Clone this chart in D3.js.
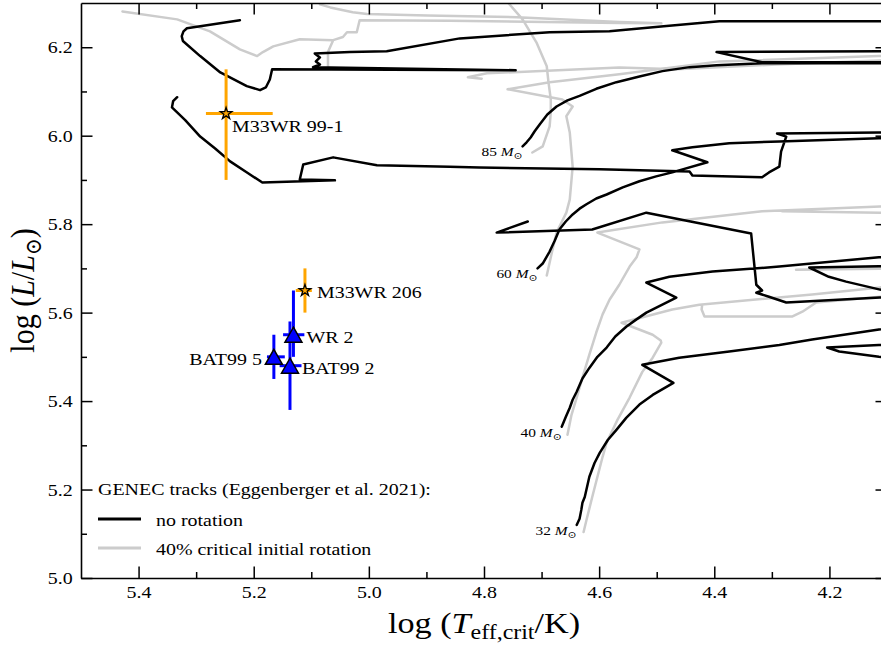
<!DOCTYPE html>
<html>
<head>
<meta charset="utf-8">
<script src="https://cdn.jsdelivr.net/npm/d3@7"></script>
<style>
  body { margin: 0; background: #fff; }
  svg { display: block; }
</style>
</head>
<body>
<svg id="chart" width="881" height="648"></svg>
<script>
// ---------------------------------------------------------------
// GENEC evolutionary tracks, [log Teff, log L] (points beyond the
// axis limits only connect track segments that leave the frame)
// ---------------------------------------------------------------
const masses = [32, 40, 60, 85];

const noRot32 = [
  [4.639,5.120],[4.634,5.134],[4.631,5.154],[4.629,5.170],[4.625,5.183],[4.617,5.229],
  [4.608,5.260],[4.599,5.283],[4.585,5.312],[4.570,5.335],[4.553,5.362],[4.530,5.392],
  [4.507,5.414],[4.471,5.441],[4.525,5.482],[4.461,5.498],[4.374,5.512],[4.287,5.527],
  [4.230,5.539],[4.114,5.562],[4.05,5.570],[4.05,5.528],[4.114,5.527],[4.204,5.521],
  [4.183,5.512],[4.114,5.500],[4.05,5.495]
];
const noRot40 = [
  [4.665,5.342],[4.658,5.364],[4.651,5.385],[4.646,5.403],[4.639,5.421],[4.629,5.451],
  [4.617,5.475],[4.603,5.500],[4.587,5.521],[4.572,5.546],[4.553,5.568],[4.537,5.583],
  [4.518,5.600],[4.466,5.634],[4.518,5.668],[4.478,5.681],[4.403,5.693],[4.287,5.704],
  [4.114,5.725],[4.05,5.727],[4.05,5.705],[4.114,5.705],[4.235,5.702],[4.201,5.681],
  [4.171,5.670],[4.112,5.652],[4.05,5.645],[4.05,5.634],[4.112,5.634],[4.275,5.623],
  [4.305,5.636],[4.327,5.645],[4.317,5.650],[4.327,5.663],[4.336,5.779],[4.518,5.826],
  [4.612,5.788],[4.778,5.781],[4.724,5.806]
];
const noRot60 = [
  [4.707,5.700],[4.698,5.711],[4.686,5.738],[4.677,5.763],[4.669,5.788],[4.658,5.806],
  [4.646,5.822],[4.634,5.835],[4.622,5.845],[4.605,5.858],[4.587,5.867],[4.559,5.883],
  [4.530,5.897],[4.501,5.908],[4.473,5.917],[4.412,5.940],[4.473,5.967],[4.438,5.974],
  [4.374,5.983],[4.287,5.987],[4.114,5.994],[4.05,5.996],[4.05,6.007],[4.114,6.007],
  [4.291,6.005],[4.275,5.998],[4.284,5.964],[4.287,5.930],[4.305,5.917],[4.317,5.906],
  [4.438,5.910],[4.443,5.919],[4.599,5.924],[4.808,5.928],[4.860,5.930],[4.986,5.933],
  [5.062,5.951],[5.114,5.935],[5.120,5.901],[5.059,5.899],[5.185,5.894],[5.213,5.918],
  [5.241,5.942],[5.267,5.971],[5.293,5.998],[5.319,6.035],[5.342,6.064],[5.340,6.078],
  [5.333,6.087]
];
const noRot85 = [
  [4.733,5.976],[4.726,5.985],[4.719,5.996],[4.712,6.010],[4.703,6.026],[4.690,6.048],
  [4.674,6.066],[4.655,6.080],[4.634,6.090],[4.605,6.106],[4.570,6.121],[4.530,6.134],
  [4.490,6.146],[4.443,6.155],[4.396,6.159],[4.317,6.164],[4.112,6.164],[4.05,6.165],
  [4.112,6.166],[4.317,6.166],[4.396,6.189],[4.112,6.191],[4.05,6.192],[4.05,6.259],
  [4.112,6.259],[4.391,6.259],[4.483,6.248],[4.582,6.236],[4.686,6.234],[4.842,6.220],
  [4.969,6.191],[5.033,6.189],[5.094,6.186],[5.085,6.177],[5.092,6.168],[5.085,6.161],
  [5.097,6.155],[4.745,6.148],[5.168,6.150],[5.172,6.127],[5.179,6.109],[5.189,6.103],
  [5.212,6.112],[5.258,6.143],[5.293,6.180],[5.323,6.214],[5.325,6.225],[5.322,6.236],
  [5.316,6.243],[5.224,6.261]
];

const rot32 = [
  [4.627,5.104],[4.622,5.131],[4.612,5.183],[4.594,5.274],[4.587,5.306],[4.568,5.358],
  [4.547,5.408],[4.525,5.466],[4.507,5.498],[4.492,5.532],[4.493,5.537],[4.507,5.550],
  [4.561,5.577],[4.473,5.607],[4.426,5.618],[4.230,5.641],[4.112,5.657],[4.05,5.660],
  [4.05,5.700],[4.112,5.701],[4.258,5.697],[4.112,5.699],[4.05,5.698],[4.05,5.636],
  [4.112,5.636],[4.223,5.623],[4.247,5.602],[4.265,5.591],[4.417,5.591],[4.422,5.607],
  [4.421,5.618]
];
const rot40 = [
  [4.655,5.324],[4.648,5.369],[4.639,5.408],[4.629,5.453],[4.617,5.505],[4.605,5.555],
  [4.594,5.596],[4.582,5.629],[4.565,5.663],[4.547,5.704],[4.535,5.725],[4.530,5.743],
  [4.603,5.781],[4.490,5.804],[4.317,5.829],[4.112,5.840],[4.05,5.841],[4.05,5.826],
  [4.112,5.826],[4.282,5.829]
];
const rot60 = [
  [4.691,5.684],[4.683,5.731],[4.674,5.781],[4.657,5.826],[4.651,5.856],[4.646,5.930],
  [4.651,6.007],[4.657,6.044],[4.646,6.066],[4.664,6.082],[4.759,6.105],[4.686,6.121],
  [4.565,6.139],[4.391,6.168],[4.114,6.180],[4.05,6.181],[4.05,6.170],[4.112,6.170],
  [4.292,6.161],[4.466,6.150],[4.565,6.154],[4.795,6.141],[4.828,6.132],[4.804,6.129]
];
const rot85 = [
  [4.716,5.962],[4.698,5.976],[4.686,6.021],[4.684,6.053],[4.684,6.082],[4.688,6.121],
  [4.691,6.157],[4.709,6.211],[4.733,6.263],[4.759,6.302],[4.775,6.340],[5.090,6.340],
  [5.085,6.297],[5.067,6.290],[5.028,6.279],[5.003,6.275],[4.899,6.272],[4.743,6.268],
  [4.565,6.257],[4.492,6.254],[4.565,6.255],[4.860,6.260],[5.016,6.261],[5.021,6.234],
  [5.038,6.234],[5.045,6.223],[5.062,6.216],[5.071,6.189],[5.071,6.155],[5.071,6.189],
  [5.062,6.216],[5.120,6.218],[5.166,6.202],[5.184,6.189],[5.194,6.180],[5.224,6.195],
  [5.276,6.236],[5.333,6.263],[5.428,6.281]
];

// ---------------------------------------------------------------
// Wolf-Rayet stars
// ---------------------------------------------------------------
const starNames  = ["M33WR 99-1", "M33WR 206", "WR 2", "BAT99 2", "BAT99 5"];
const starGroup  = ["M33", "M33", "Galactic", "LMC", "LMC"];
const starLogT   = [5.248, 5.111, 5.131, 5.137, 5.165];
const starLogL   = [6.05, 5.65, 5.55, 5.48, 5.50];
const starLogTlo = [5.167, 5.099, 5.112, 5.117, 5.146];
const starLogThi = [5.283, 5.127, 5.149, 5.155, 5.177];
const starLogLlo = [5.90, 5.60, 5.50, 5.38, 5.45];
const starLogLhi = [6.15, 5.70, 5.65, 5.58, 5.55];

const xMajor = [5.4, 5.2, 5.0, 4.8, 4.6, 4.4, 4.2];
const xMinor = [5.3, 5.1, 4.9, 4.7, 4.5, 4.3];
const yMajor = [5.0, 5.2, 5.4, 5.6, 5.8, 6.0, 6.2];
const yMinor = [5.1, 5.3, 5.5, 5.7, 5.9, 6.1];

// ---------------------------------------------------------------
const serif = "'Liberation Serif','Times New Roman','DejaVu Serif',serif";
const SX = 1.14;             // horizontal text aspect
const GREY = "#cccccc";
const ORANGE = "#ffa500";
const BLUE = "#0000ff";

const svg = d3.select("#chart");
const plot = { left: 81, right: 887, top: 3, bottom: 578 };

const x = d3.scaleLinear().domain([5.5, 4.1]).range([plot.left, plot.right]);
const y = d3.scaleLinear().domain([5.0, 6.3]).range([plot.bottom, plot.top]);

svg.append("defs").append("clipPath").attr("id", "plotClip")
  .append("rect")
  .attr("x", plot.left).attr("y", plot.top)
  .attr("width", plot.right - plot.left).attr("height", plot.bottom - plot.top);

// stretched text helper
function stext(parent, px, py, size, anchor, extra) {
  const g = parent.append("g")
    .attr("transform", `translate(${px},${py}) scale(${SX},1)` + (extra || ""));
  return g.append("text")
    .attr("font-family", serif)
    .attr("font-size", size)
    .attr("text-anchor", anchor || "start")
    .attr("fill", "#000");
}

// --- tracks ---
const line = d3.line().x(d => x(d[0])).y(d => y(d[1]));
const tracksG = svg.append("g").attr("clip-path", "url(#plotClip)");
const rotTracks = [rot32, rot40, rot60, rot85];
const noRotTracks = [noRot32, noRot40, noRot60, noRot85];

tracksG.selectAll("path.rot").data(rotTracks).join("path")
  .attr("class", "rot").attr("d", line)
  .attr("fill", "none").attr("stroke", GREY).attr("stroke-width", 2.5)
  .attr("stroke-linejoin", "round").attr("stroke-linecap", "round");

tracksG.selectAll("path.norot").data(noRotTracks).join("path")
  .attr("class", "norot").attr("d", line)
  .attr("fill", "none").attr("stroke", "#000").attr("stroke-width", 2.5)
  .attr("stroke-linejoin", "round").attr("stroke-linecap", "round");

// --- initial mass labels at the track starts ---
masses.forEach((m, i) => {
  const p = noRotTracks[i][0];
  const t = stext(svg, x(p[0]), y(p[1]) + 10, 13.5, "end");
  t.append("tspan").text(m + " ");
  t.append("tspan").attr("font-style", "italic").text("M");
  t.append("tspan").attr("font-size", 9.5).attr("dy", 3).text("\u2299");
});

// --- stars: error bars, markers, names ---
const idx = d3.range(starNames.length);
const colorOf = g => g === "M33" ? ORANGE : BLUE;
const errG = svg.append("g");
idx.forEach(i => {
  const c = colorOf(starGroup[i]);
  errG.append("line")
    .attr("x1", x(starLogTlo[i])).attr("x2", x(starLogThi[i]))
    .attr("y1", y(starLogL[i])).attr("y2", y(starLogL[i]))
    .attr("stroke", c).attr("stroke-width", 3);
  errG.append("line")
    .attr("x1", x(starLogT[i])).attr("x2", x(starLogT[i]))
    .attr("y1", y(starLogLlo[i])).attr("y2", y(starLogLhi[i]))
    .attr("stroke", c).attr("stroke-width", 3);
});

const starPath = d3.symbol(d3.symbolStar, 42)();
const triW = 8.5, triH = 7.5;
const triPath = `M0,${-triH}L${triW},${triH}L${-triW},${triH}Z`;
const markG = svg.append("g");
idx.forEach(i => {
  const isM33 = starGroup[i] === "M33";
  markG.append("path")
    .attr("transform", `translate(${x(starLogT[i])},${y(starLogL[i])})`)
    .attr("d", isM33 ? starPath : triPath)
    .attr("fill", colorOf(starGroup[i]))
    .attr("stroke", "#000").attr("stroke-width", isM33 ? 1.3 : 1.5)
    .attr("stroke-linejoin", "miter");
});

const labelOffset = {
  "M33WR 99-1": [6, 18, "start"],
  "M33WR 206":  [12, 7, "start"],
  "WR 2":       [13, 8, "start"],
  "BAT99 2":    [12, 8, "start"],
  "BAT99 5":    [-12, 8, "end"]
};
idx.forEach(i => {
  const o = labelOffset[starNames[i]];
  stext(svg, x(starLogT[i]) + o[0], y(starLogL[i]) + o[1], 17.5, o[2]).text(starNames[i]);
});

// --- legend ---
stext(svg, 98, 495, 17.5, "start").text("GENEC tracks (Eggenberger et al. 2021):");
svg.append("line").attr("x1", 98).attr("x2", 141).attr("y1", 519).attr("y2", 519)
  .attr("stroke", "#000").attr("stroke-width", 3);
stext(svg, 156, 526, 17.5, "start").text("no rotation");
svg.append("line").attr("x1", 98).attr("x2", 141).attr("y1", 548).attr("y2", 548)
  .attr("stroke", GREY).attr("stroke-width", 3);
stext(svg, 156, 555, 17.5, "start").text("40% critical initial rotation");

// --- axes ---
const fmt = d3.format(".1f");
function styleAxis(g, keepDomain) {
  g.attr("font-family", serif).attr("font-size", 17.5);
  g.selectAll(".tick line").attr("stroke", "#000").attr("stroke-width", 1.5);
  if (keepDomain) g.select(".domain").attr("stroke", "#000").attr("stroke-width", 1.6);
  else g.select(".domain").remove();
}

// bottom
const axB = svg.append("g").attr("transform", `translate(0,${plot.bottom})`)
  .call(d3.axisBottom(x).tickValues(xMajor).tickFormat(fmt)
    .tickSizeInner(-11.5).tickSizeOuter(0).tickPadding(8));
styleAxis(axB, true);
axB.selectAll(".tick text").attr("fill", "#000").attr("transform", `scale(${SX},1)`);
svg.append("g").attr("transform", `translate(0,${plot.bottom})`)
  .call(d3.axisBottom(x).tickValues(xMinor).tickFormat(() => "")
    .tickSizeInner(-6).tickSizeOuter(0)).call(g => styleAxis(g, false));

// top
svg.append("g").attr("transform", `translate(0,${plot.top})`)
  .call(d3.axisTop(x).tickValues(xMajor).tickFormat(() => "")
    .tickSizeInner(-11.5).tickSizeOuter(0)).call(g => styleAxis(g, true));
svg.append("g").attr("transform", `translate(0,${plot.top})`)
  .call(d3.axisTop(x).tickValues(xMinor).tickFormat(() => "")
    .tickSizeInner(-6).tickSizeOuter(0)).call(g => styleAxis(g, false));

// left
const axL = svg.append("g").attr("transform", `translate(${plot.left},0)`)
  .call(d3.axisLeft(y).tickValues(yMajor).tickFormat(fmt)
    .tickSizeInner(-11.5).tickSizeOuter(0).tickPadding(7.3));
styleAxis(axL, true);
axL.selectAll(".tick text").attr("fill", "#000").attr("transform", `scale(${SX},1)`);
svg.append("g").attr("transform", `translate(${plot.left},0)`)
  .call(d3.axisLeft(y).tickValues(yMinor).tickFormat(() => "")
    .tickSizeInner(-6).tickSizeOuter(0)).call(g => styleAxis(g, false));

// right
svg.append("g").attr("transform", `translate(${plot.right},0)`)
  .call(d3.axisRight(y).tickValues(yMajor).tickFormat(() => "")
    .tickSizeInner(-11.5).tickSizeOuter(0)).call(g => styleAxis(g, true));
svg.append("g").attr("transform", `translate(${plot.right},0)`)
  .call(d3.axisRight(y).tickValues(yMinor).tickFormat(() => "")
    .tickSizeInner(-6).tickSizeOuter(0)).call(g => styleAxis(g, false));

// --- axis titles ---
const xt = stext(svg, (plot.left + plot.right) / 2, 633, 30, "middle");
xt.append("tspan").text("log (");
xt.append("tspan").attr("font-style", "italic").text("T");
xt.append("tspan").attr("font-size", 21).attr("dy", 6).text("eff,crit");
xt.append("tspan").attr("dy", -6).text("/K)");

const yt = stext(svg, 34, (plot.top + plot.bottom) / 2, 30, "middle", " rotate(-90)");
yt.append("tspan").text("log (");
yt.append("tspan").attr("font-style", "italic").text("L");
yt.append("tspan").text("/");
yt.append("tspan").attr("font-style", "italic").text("L");
yt.append("tspan").attr("font-size", 20).attr("dy", 6).text("\u2299");
yt.append("tspan").attr("dy", -6).text(")");
</script>
</body>
</html>
